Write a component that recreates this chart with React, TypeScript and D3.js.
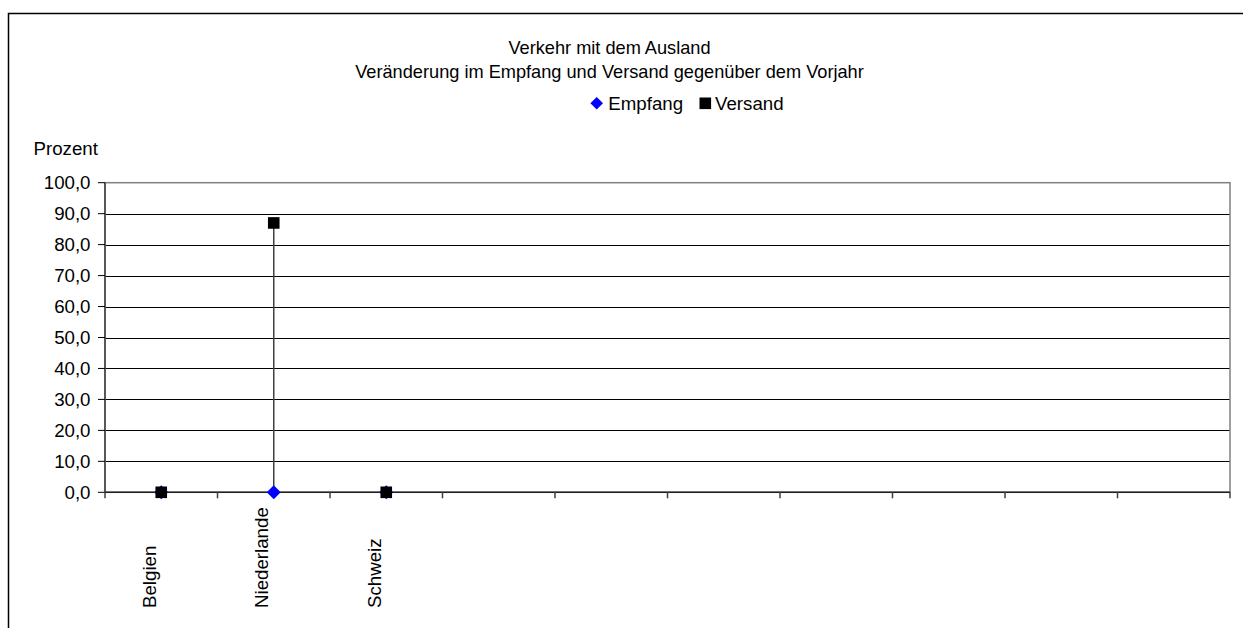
import React from "react";
import * as d3 from "d3";

const categories = ["Belgien", "Niederlande", "Schweiz", "", "", "", "", "", "", ""];
const empfang: (number | null)[] = [0, 0, 0, null, null, null, null, null, null, null];
const versand: (number | null)[] = [0, 87.0, 0, null, null, null, null, null, null, null];
const yTicks = [0, 10, 20, 30, 40, 50, 60, 70, 80, 90, 100];
const titleLines = ["Verkehr mit dem Ausland", "Veränderung im Empfang und Versand gegenüber dem Vorjahr"];
const seriesNames = ["Empfang", "Versand"];

const W = 1243;
const H = 628;
const FONT = "'Liberation Sans', Arial, sans-serif";
const FS = 18.7;

export default function App() {
  const left = 105, right = 1230, top = 182.7, bottom = 492.3;
  const x = d3.scaleBand<number>().domain(d3.range(categories.length)).range([left, right]).padding(0);
  const y = d3.scaleLinear().domain([0, 100]).range([bottom, top]);
  const cx = (i: number) => (x(i) as number) + x.bandwidth() / 2;
  const fmt = (v: number) => v.toFixed(1).replace(".", ",");
  const diamond = (px: number, py: number, r: number) =>
    `M${px},${py - r}L${px + r},${py}L${px},${py + r}L${px - r},${py}Z`;
  const sq = 11.6;

  return (
    <svg width={W} height={H} style={{ position: "absolute", left: 0, top: 0, background: "#fff" }} fontFamily={FONT}>
      <rect x={0} y={0} width={W} height={H} fill="#fff" />
      <rect x={8.5} y={13.5} width={W + 20} height={H + 20} fill="none" stroke="#000" strokeWidth={1.5} />
      {titleLines.map((t, i) => (
        <text key={i} x={609.5} y={54 + i * 23.7} textAnchor="middle" fontSize={18.2} fill="#000">{t}</text>
      ))}
      {/* legend */}
      <path d={diamond(596.7, 103.3, 6.3)} fill="#0000ff" />
      <text x={608.3} y={110} fontSize={FS} fill="#000">{seriesNames[0]}</text>
      <rect x={699.5} y={97.5} width={11.6} height={11.6} fill="#000" />
      <text x={715} y={110} fontSize={FS} fill="#000">{seriesNames[1]}</text>
      <text x={33.5} y={155} fontSize={FS} fill="#000">Prozent</text>
      {/* grid */}
      {yTicks.filter((t) => t > 0 && t < 100).map((t) => (
        <line key={t} x1={left} x2={right} y1={Math.round(y(t)) + 0.5} y2={Math.round(y(t)) + 0.5} stroke="#000" strokeWidth={1} />
      ))}
      <rect x={left} y={top} width={right - left} height={bottom - top} fill="none" stroke="#808080" strokeWidth={1.5} />
      <line x1={left} x2={left} y1={top} y2={bottom} stroke="#404040" strokeWidth={1.5} />
      <line x1={left} x2={right} y1={bottom} y2={bottom} stroke="#202020" strokeWidth={1.5} />
      {/* y ticks */}
      {yTicks.map((t) => (
        <g key={t}>
          <line x1={98} x2={left} y1={y(t)} y2={y(t)} stroke="#000" strokeWidth={1} />
          <text x={90.5} y={y(t) + 6.6} textAnchor="end" fontSize={FS} fill="#000">{fmt(t)}</text>
        </g>
      ))}
      {/* x ticks */}
      {d3.range(categories.length + 1).map((i) => {
        const px = i < categories.length ? (x(i) as number) : right;
        return <line key={i} x1={px} x2={px} y1={bottom} y2={bottom + 6} stroke="#404040" strokeWidth={1.5} />;
      })}
      {categories.map((c, i) =>
        c ? (
          <text key={i} transform={`translate(${cx(i) - 5.5},608) rotate(-90)`} fontSize={FS} fill="#000">{c}</text>
        ) : null
      )}
      {/* high-low lines */}
      {categories.map((_, i) => {
        const a = empfang[i], b = versand[i];
        if (a == null || b == null || a === b) return null;
        return <line key={i} x1={cx(i)} x2={cx(i)} y1={y(Math.max(a, b))} y2={y(Math.min(a, b))} stroke="#404040" strokeWidth={1.5} />;
      })}
      {/* markers */}
      {empfang.map((v, i) => (v == null ? null : <path key={i} d={diamond(cx(i), y(v), 7)} fill="#0000ff" />))}
      {versand.map((v, i) =>
        v == null ? null : <rect key={i} x={cx(i) - sq / 2} y={y(v) - sq / 2} width={sq} height={sq} fill="#000" />
      )}
    </svg>
  );
}
